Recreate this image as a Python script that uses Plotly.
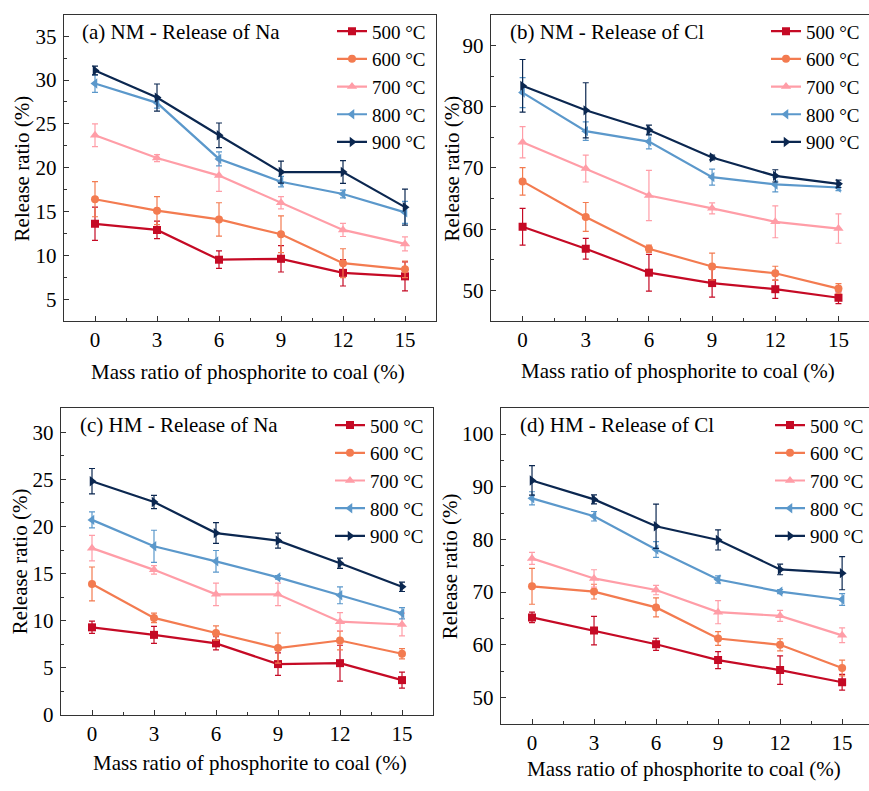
import plotly.graph_objects as go

W, H = 869, 791

mass_ratio = [0, 3, 6, 9, 12, 15]
temps = ["500 °C", "600 °C", "700 °C", "800 °C", "900 °C"]
colors = ["#C50A25", "#F37B50", "#FF9DA7", "#5B98CB", "#0B2750"]
symbols = ["square", "circle", "triangle-up", "triangle-left", "triangle-right"]

# (a) NM - Release of Na
nm_na = [
    [13.6, 12.9, 9.5, 9.6, 8.0, 7.6],
    [16.4, 15.1, 14.1, 12.4, 9.1, 8.4],
    [23.7, 21.1, 19.1, 16.0, 12.9, 11.3],
    [29.6, 27.4, 21.0, 18.4, 17.0, 14.9],
    [31.1, 28.0, 23.7, 19.5, 19.5, 15.5],
]
nm_na_err = [
    [1.9, 1.0, 1.0, 1.5, 1.5, 1.65],
    [2.0, 1.6, 1.9, 2.1, 1.65, 0.95],
    [1.3, 0.4, 1.8, 0.7, 0.75, 0.8],
    [1.0, 0.6, 0.8, 0.6, 0.45, 1.25],
    [0.5, 1.55, 1.4, 1.25, 1.3, 2.05],
]

# (b) NM - Release of Cl
nm_cl = [
    [60.4, 56.8, 52.9, 51.2, 50.2, 48.8],
    [67.8, 62.0, 56.8, 53.9, 52.8, 50.3],
    [74.2, 69.9, 65.5, 63.4, 61.2, 60.1],
    [82.3, 76.0, 74.3, 68.5, 67.3, 66.8],
    [83.4, 79.4, 76.2, 71.7, 68.7, 67.4],
]
nm_cl_err = [
    [3.0, 1.7, 3.0, 2.3, 1.5, 0.95],
    [2.25, 2.35, 0.6, 2.2, 1.15, 0.8],
    [2.55, 2.2, 4.1, 0.9, 2.6, 2.4],
    [2.45, 1.5, 1.2, 1.3, 1.2, 0.5],
    [4.3, 4.5, 0.8, 0.4, 1.0, 0.6],
]

# (c) HM - Release of Na
hm_na = [
    [9.3, 8.5, 7.6, 5.4, 5.5, 3.7],
    [13.9, 10.3, 8.7, 7.1, 7.9, 6.5],
    [17.7, 15.4, 12.8, 12.8, 9.9, 9.6],
    [20.7, 17.9, 16.3, 14.6, 12.7, 10.8],
    [24.8, 22.6, 19.3, 18.5, 16.1, 13.6],
]
hm_na_err = [
    [0.65, 0.9, 0.7, 1.2, 1.9, 0.85],
    [1.8, 0.5, 0.75, 1.6, 1.0, 0.55],
    [1.35, 0.45, 1.2, 1.2, 0.95, 1.2],
    [0.85, 1.7, 1.15, 0.2, 0.9, 0.6],
    [1.35, 0.7, 1.1, 0.8, 0.55, 0.5],
]

# (d) HM - Release of Cl
hm_cl = [
    [65.2, 62.7, 60.1, 57.1, 55.2, 52.9],
    [71.1, 70.1, 67.1, 61.2, 60.0, 55.6],
    [76.4, 72.6, 70.4, 66.2, 65.5, 61.8],
    [87.8, 84.4, 78.1, 72.4, 70.1, 68.6],
    [91.2, 87.6, 82.5, 79.9, 74.3, 73.6],
]
hm_cl_err = [
    [1.0, 2.7, 1.15, 1.6, 2.7, 1.5],
    [3.4, 1.4, 1.8, 1.3, 1.15, 1.5],
    [1.15, 1.65, 0.9, 2.2, 1.05, 1.4],
    [1.25, 0.9, 1.5, 0.7, 0.4, 1.1],
    [2.8, 0.85, 4.2, 1.9, 1.0, 3.15],
]

panel_titles = ["(a) NM - Release of Na", "(b) NM - Release of Cl",
                "(c) HM - Release of Na", "(d) HM - Release of Cl"]
x_title = "Mass ratio of phosphorite to coal (%)"
y_title = "Release ratio (%)"

FONT = "Liberation Serif"
AX = "#333333"
FS = 21
LFS = 19

# pixel boxes: (left, right, top, bottom)
boxes = [(64, 436, 15, 326), (491, 869, 15, 326), (61, 433, 414, 726), (501, 869, 414, 735)]
xranges = [[-1.5, 16.5], [-1.5, 16.45], [-1.5, 16.5], [-1.5, 16.3]]
yranges = [[2.5, 37.45], [45, 95], [0, 32.6], [45, 105]]
ydticks = [5, 10, 5, 10]
ymirror = [True, False, True, False]
datasets = [(nm_na, nm_na_err), (nm_cl, nm_cl_err), (hm_na, hm_na_err), (hm_cl, hm_cl_err)]

fig = go.Figure()
layout = dict(width=W, height=H, autosize=False, margin=dict(l=0, r=0, t=0, b=0),
              paper_bgcolor="white", plot_bgcolor="white",
              font=dict(family=FONT, size=FS, color="black"), showlegend=True)

def px(x):
    return x / W

def py(y):
    return 1 - y / H

# legend positions (text start x, first item center y)
leg_pos = [(372, 32), (806, 32), (370, 432), (810, 432)]

annotations = []
for i, ((vals, errs), box) in enumerate(zip(datasets, boxes)):
    n = "" if i == 0 else str(i + 1)
    xa, ya = "x" + n, "y" + n
    leg = "legend" + n
    l, r, t, b = box
    layout["xaxis" + n] = dict(
        domain=[px(l), min(px(r), 1.0)], range=xranges[i], anchor=ya,
        tickvals=mass_ratio, ticks="inside", ticklen=5, tickwidth=1.3, tickcolor=AX,
        minor=dict(dtick=1.5, tick0=0, ticks="inside", ticklen=3, tickwidth=1.2, tickcolor=AX),
        showline=True, linecolor=AX, linewidth=1.4, mirror=True, showgrid=False, zeroline=False,
        tickfont=dict(family=FONT, size=FS, color="black"), fixedrange=True)
    layout["yaxis" + n] = dict(
        domain=[py(b), py(t)], range=yranges[i], anchor=xa,
        dtick=ydticks[i], tick0=0, ticks="inside", ticklen=5, tickwidth=1.3, tickcolor=AX,
        minor=dict(dtick=ydticks[i] / 2, tick0=0, ticks="inside", ticklen=3, tickwidth=1.2, tickcolor=AX),
        showline=True, linecolor=AX, linewidth=1.4, mirror=ymirror[i], showgrid=False, zeroline=False,
        tickfont=dict(family=FONT, size=FS, color="black"), ticklabelstandoff=2, fixedrange=True)
    tx, cy = leg_pos[i]
    layout[leg] = dict(x=px(tx - 40), y=py(cy - 19.5), xanchor="left", yanchor="top",
                       bgcolor="rgba(0,0,0,0)", borderwidth=0, tracegroupgap=0,
                       font=dict(family=FONT, size=LFS, color="black"))
    for k in range(5):
        fig.add_trace(go.Scatter(
            x=mass_ratio, y=vals[k], xaxis=xa, yaxis=ya, legend=leg,
            name=temps[k], mode="lines+markers",
            line=dict(color=colors[k], width=2.2),
            marker=dict(symbol=symbols[k], size=8 if k < 2 else 9, color=colors[k]),
            error_y=dict(type="data", array=errs[k], visible=True, color=colors[k],
                         thickness=1.2, width=3),
        ))

# panel titles
title_pos = [(80, 33), (508, 33), (78, 432), (518, 432)]
for txt, (x, y) in zip(panel_titles, title_pos):
    annotations.append(dict(text=txt, x=px(x), y=py(y), xref="paper", yref="paper",
                            xanchor="left", yanchor="middle", showarrow=False,
                            font=dict(family=FONT, size=FS, color="black")))
# axis titles
xt_pos = [(248, 378), (678, 377), (250, 775), (684, 781)]
for (x, y) in xt_pos:
    annotations.append(dict(text=x_title, x=px(x), y=py(y), xref="paper", yref="paper",
                            xanchor="center", yanchor="middle", showarrow=False,
                            font=dict(family=FONT, size=FS, color="black")))
yt_pos = [(22, 171), (452, 171), (20, 570), (450, 575)]
for (x, y) in yt_pos:
    annotations.append(dict(text=y_title, x=px(x), y=py(y), xref="paper", yref="paper",
                            xanchor="center", yanchor="middle", showarrow=False, textangle=-90,
                            font=dict(family=FONT, size=FS, color="black")))

layout["annotations"] = annotations
fig.update_layout(**layout)
fig.write_html("out.html")
